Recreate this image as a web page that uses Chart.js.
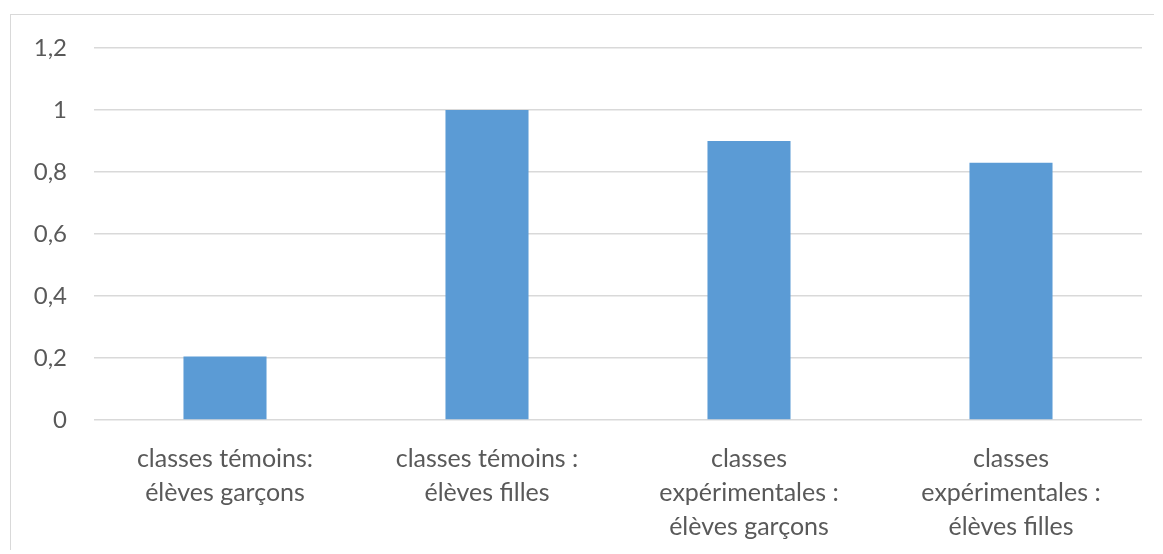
<!DOCTYPE html>
<html>
<head>
<meta charset="utf-8">
<script src="https://cdn.jsdelivr.net/npm/chart.js@4"></script>
<style>
  html, body { margin: 0; padding: 0; background: #fff; overflow: hidden; }
  #box {
    position: absolute; left: 10px; top: 14px;
    width: 1143px; height: 535px;
    border-left: 1px solid #d9d9d9;
    border-top: 1px solid #d9d9d9;
  }
</style>
</head>
<body>
<div id="box"><canvas id="graph"></canvas></div>
<script>
let categories = [
  ['classes témoins:', 'élèves garçons'],
  ['classes témoins :', 'élèves filles'],
  ['classes', 'expérimentales :', 'élèves garçons'],
  ['classes', 'expérimentales :', 'élèves filles']
]
let valeurs = [0.205, 1.0, 0.9, 0.83]
let yTicks = [0, 0.2, 0.4, 0.6, 0.8, 1, 1.2]

const gris = '#595959'

const data = {
  labels: categories,
  datasets: [{
    label: 'Série 1',
    data: valeurs,
    backgroundColor: '#5b9bd5',
    borderWidth: 0,
    barPercentage: 1,
    categoryPercentage: 0.317
  }]
}

const config = {
  type: 'bar',
  data: data,
  options: {
    responsive: true,
    maintainAspectRatio: false,
    animation: false,
    layout: { padding: { top: 33, right: 12, left: 0, bottom: 0 } },
    plugins: {
      legend: { display: false },
      tooltip: { enabled: false }
    },
    scales: {
      x: {
        grid: { display: false },
        border: { display: false },
        ticks: {
          color: gris,
          font: { family: 'Lato', size: 25, lineHeight: 1.36 },
          padding: 14,
          maxRotation: 0,
          autoSkip: false
        },
        afterFit: function (s) { s.height = 130 }
      },
      y: {
        min: 0,
        max: 1.2,
        afterBuildTicks: function (s) { s.ticks = yTicks.map(v => ({ value: v })) },
        grid: { color: '#d9d9d9', lineWidth: 1.5, drawTicks: false },
        border: { display: false },
        ticks: {
          color: gris,
          font: { family: 'Lato', size: 24 },
          padding: 27,
          callback: function (v) { return String(Math.round(v * 10) / 10).replace('.', ',') }
        },
        afterFit: function (s) {
          s.width = 83
          s.paddingTop = 0
          s.paddingBottom = 0
        }
      }
    }
  }
}

const myChart = new Chart(document.getElementById('graph'), config)
</script>
</body>
</html>
